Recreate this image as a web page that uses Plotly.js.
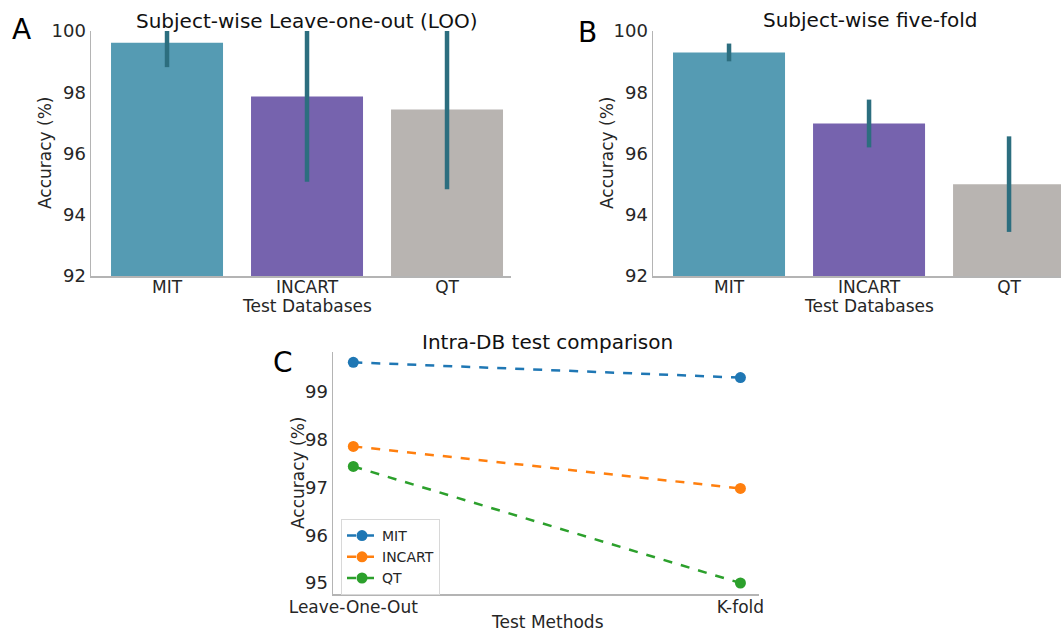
<!DOCTYPE html>
<html>
<head>
<meta charset="utf-8">
<script src="https://cdn.plot.ly/plotly-3.0.1.min.js"></script>
<style>html,body{margin:0;padding:0;background:#fff;}#chart{width:1061px;height:631px;}</style>
</head>
<body>
<div id="chart"></div>
<script>
const categories = ['MIT', 'INCART', 'QT'];
const looMean = [99.62, 97.86, 97.44];
const looErr = [0.80, 2.78, 2.61];
const kfoldMean = [99.30, 96.98, 95.00];
const kfoldErr = [0.29, 0.78, 1.56];
const methods = ['Leave-One-Out', 'K-fold'];
const yTicksAB = [92, 94, 96, 98, 100];
const yTicksC = [95, 96, 97, 98, 99];

const barColors = ['#559bb3', '#7663ae', '#b8b4b1'];
const errColor = '#2c6e7f';
const lineColors = ['#1f77b4', '#ff7f0e', '#2ca02c'];
const W = 1061, H = 631;
const FONT = 'DejaVu Sans, Liberation Sans, sans-serif';
const TXT = '#262626';
const SPINE = '#b4b4b4';

function px(x) { return x / W; }
function py(y) { return 1 - y / H; }

const traces = [
  {
    type: 'bar', x: categories, y: looMean, xaxis: 'x', yaxis: 'y',
    marker: { color: barColors, line: { width: 0 } },
    error_y: { type: 'data', array: looErr, visible: true, color: errColor, thickness: 4.5, width: 0 },
    showlegend: false, hoverinfo: 'x+y'
  },
  {
    type: 'bar', x: categories, y: kfoldMean, xaxis: 'x2', yaxis: 'y2',
    marker: { color: barColors, line: { width: 0 } },
    error_y: { type: 'data', array: kfoldErr, visible: true, color: errColor, thickness: 4.5, width: 0 },
    showlegend: false, hoverinfo: 'x+y'
  }
];
categories.forEach((c, i) => {
  traces.push({
    type: 'scatter', mode: 'lines+markers', name: c,
    x: methods, y: [looMean[i], kfoldMean[i]], xaxis: 'x3', yaxis: 'y3',
    line: { color: lineColors[i], width: 2.5, dash: 'dash' },
    marker: { color: lineColors[i], size: 11, symbol: 'circle' }
  });
});

const axBase = {
  showline: true, linecolor: SPINE, linewidth: 1.5, ticks: '', showgrid: false,
  zeroline: false, tickfont: { family: FONT, size: 17, color: TXT }, fixedrange: true
};
const yFont = { family: FONT, size: 18, color: TXT };

function ann(text, x, y, size, opts) {
  return Object.assign({
    text: text, x: px(x), y: py(y), xref: 'paper', yref: 'paper',
    xanchor: 'center', yanchor: 'middle', showarrow: false,
    font: { family: FONT, size: size, color: TXT }
  }, opts || {});
}

const layout = {
  width: W, height: H,
  margin: { l: 0, r: 0, t: 0, b: 0 },
  paper_bgcolor: '#ffffff', plot_bgcolor: '#ffffff',
  font: { family: FONT, color: TXT },
  bargap: 0.2,
  xaxis: Object.assign({}, axBase, { domain: [px(91), px(511)], anchor: 'y', range: [-0.543, 2.457], type: 'category', ticklabelstandoff: -5 }),
  yaxis: Object.assign({}, axBase, { domain: [py(276), py(31)], anchor: 'x', range: [92, 100], tickvals: yTicksAB, tickfont: yFont }),
  xaxis2: Object.assign({}, axBase, { domain: [px(653), 1], anchor: 'y2', range: [-0.543, 2.371], type: 'category', ticklabelstandoff: -5 }),
  yaxis2: Object.assign({}, axBase, { domain: [py(276), py(31)], anchor: 'x2', range: [92, 100], tickvals: yTicksAB, tickfont: yFont }),
  xaxis3: Object.assign({}, axBase, { domain: [px(333), px(759)], anchor: 'y3', range: [-0.0525, 1.048], type: 'category', ticklabelstandoff: -3 }),
  yaxis3: Object.assign({}, axBase, { domain: [py(594), py(352.3)], anchor: 'x3', range: [94.77, 99.83], tickvals: yTicksC, tickfont: yFont }),
  legend: {
    x: px(341), y: py(519), xanchor: 'left', yanchor: 'top',
    bgcolor: '#ffffff', bordercolor: '#d8d8d8', borderwidth: 1,
    font: { family: FONT, size: 14, color: TXT }, tracegroupgap: 0
  },
  annotations: [
    ann('A', 21, 30, 28, { font: { family: FONT, size: 28, color: '#000' } }),
    ann('B', 587, 33, 28, { font: { family: FONT, size: 28, color: '#000' } }),
    ann('C', 283, 362, 28, { font: { family: FONT, size: 28, color: '#000' } }),
    ann('Subject-wise Leave-one-out (LOO)', 307, 21, 20, { font: { family: FONT, size: 20, color: '#111' } }),
    ann('Subject-wise five-fold', 870, 20, 20, { font: { family: FONT, size: 20, color: '#111' } }),
    ann('Intra-DB test comparison', 547, 342, 20, { font: { family: FONT, size: 20, color: '#111' } }),
    ann('Accuracy (%)', 45, 153, 17, { textangle: -90 }),
    ann('Accuracy (%)', 607, 153, 17, { textangle: -90 }),
    ann('Accuracy (%)', 298, 473, 17, { textangle: -90 }),
    ann('Test Databases', 307, 306, 17),
    ann('Test Databases', 869, 306, 17),
    ann('Test Methods', 547, 622, 17)
  ]
};

Plotly.newPlot('chart', traces, layout, { staticPlot: true, displayModeBar: false });
</script>
</body>
</html>
